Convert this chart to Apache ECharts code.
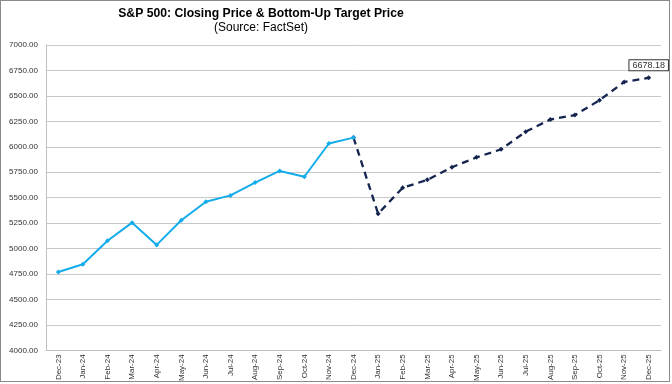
<!DOCTYPE html>
<html><head><meta charset="utf-8">
<script src="https://cdn.jsdelivr.net/npm/echarts@6/dist/echarts.min.js"></script>
<style>
html,body{margin:0;padding:0;background:#fff;}
#frame{position:absolute;left:0;top:0;width:668px;height:380px;border:1px solid #8a8a8a;}
#c{position:absolute;left:0;top:0;width:672px;height:384px;}
</style></head>
<body><div id="frame"></div><div id="c"></div>
<script>
var categories = ['Dec-23','Jan-24','Feb-24','Mar-24','Apr-24','May-24','Jun-24','Jul-24','Aug-24','Sep-24','Oct-24','Nov-24','Dec-24',
 'Jan-25','Feb-25','Mar-25','Apr-25','May-25','Jun-25','Jul-25','Aug-25','Sep-25','Oct-25','Nov-25','Dec-25'];
var closingPrice = [4769.83,4845.65,5076,5254.35,5035.69,5277.51,5460.48,5522.3,5648.4,5762.48,5705.45,6032.38,6090,
 null,null,null,null,null,null,null,null,null,null,null,null];
var targetPrice = [null,null,null,null,null,null,null,null,null,null,null,null,6090,
 5343,5597,5675,5799,5896,5975,6148,6268,6311,6457,6636,6678.18];
var yTicks = {min:4000, max:7000, interval:250};

var ff = '"Liberation Sans", Arial, sans-serif';
var lastIdx = targetPrice.length - 1;
var targetData = targetPrice.map(function(v, i){
  if (i !== lastIdx) return v;
  return {value:v, label:{show:true, position:'top', distance:5, fontFamily:ff, fontSize:9, color:'#333',
    borderColor:'#333', borderWidth:1, padding:[1,3,0,3], backgroundColor:'#fff',
    formatter:function(p){return Number(p.value).toFixed(2);}}};
});

var chart = echarts.init(document.getElementById('c'));
chart.setOption({
  animation:false,
  title:[
    {text:'S&P 500: Closing Price & Bottom-Up Target Price', left:261, top:8, padding:0, textAlign:'center',
     textStyle:{fontFamily:ff,fontSize:12.2,fontWeight:'bold',color:'#000'}},
    {text:'(Source: FactSet)', left:261, top:22, padding:0, textAlign:'center',
     textStyle:{fontFamily:ff,fontSize:12,fontWeight:'normal',color:'#000'}}
  ],
  grid:{left:46, right:11, top:45, bottom:33},
  xAxis:{type:'category', data:categories, boundaryGap:true,
    axisLine:{lineStyle:{color:'#bfbfbf'}}, axisTick:{show:false},
    axisLabel:{rotate:90, interval:0, fontFamily:ff, fontSize:8, color:'#333', margin:4}},
  yAxis:{type:'value', min:yTicks.min, max:yTicks.max, interval:yTicks.interval,
    axisLine:{show:true, lineStyle:{color:'#bfbfbf'}}, axisTick:{show:false},
    splitLine:{lineStyle:{color:'#c8c8c8', width:1}},
    axisLabel:{fontFamily:ff, fontSize:8, color:'#333', margin:8, formatter:function(v){return v.toFixed(2);}}},
  series:[
    {type:'line', data:closingPrice, symbol:'diamond', symbolSize:5, showSymbol:true,
     lineStyle:{color:'#14ACEB', width:2}, itemStyle:{color:'#14ACEB'}, z:3},
    {type:'line', data:targetData, symbol:'diamond', symbolSize:5, connectNulls:false,
     lineStyle:{color:'#15254F', width:2.3, type:[7,5]}, itemStyle:{color:'#15254F'}, z:2}
  ]
});
</script></body></html>
